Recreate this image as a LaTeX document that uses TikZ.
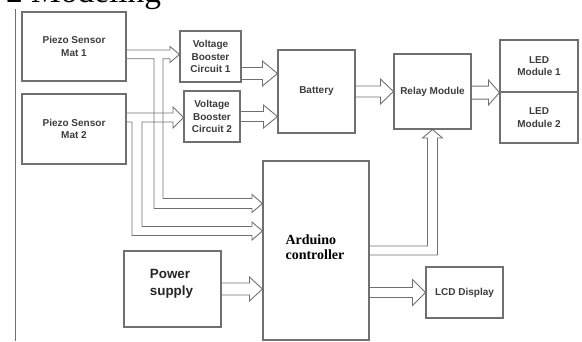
\documentclass[tikz,border=0pt]{standalone}
\usepackage{fontspec}
\setmainfont{Liberation Serif}
\setsansfont{Liberation Sans}
\usetikzlibrary{calc}
\definecolor{boxgray}{HTML}{707070}
\definecolor{txtgray}{HTML}{3C3C3C}
\newcommand\harrow[5]{%
  \draw[arr] ($(#1|-#2)+(0,-#3)$) -- ($(#2)+(-#5,-#3)$) -- ($(#2)+(-#5,-#4)$) -- (#2)
    -- ($(#2)+(-#5,#4)$) -- ($(#2)+(-#5,#3)$) -- ($(#1|-#2)+(0,#3)$);}
\begin{document}
\begin{tikzpicture}[x=1pt,y=-1pt,
  blk/.style={draw=boxgray,line width=1.1pt,inner sep=0pt,align=center,
    font=\sffamily\bfseries\fontsize{10}{12.3}\selectfont,text=txtgray},
  arr/.style={draw=boxgray,line width=0.9pt,line join=miter}]
\useasboundingbox (0,0) rectangle (582,341);
\begin{scope}
\clip (0,0) rectangle (582,341);
\node[anchor=base west,inner sep=0pt,font=\fontsize{33.4}{36}\selectfont] (title) at (6,2.5) {2 Modeling};
\end{scope}
\draw[boxgray,line width=0.9pt] (15.7,9) -- (15.7,341);

% blocks
\node[blk,minimum width=104,minimum height=69] (p1) at (74,46.5) {Piezo Sensor\\Mat 1};
\node[blk,minimum width=104,minimum height=70] (p2) at (74,129) {Piezo Sensor\\Mat 2};
\node[blk,minimum width=61,minimum height=51] (vb1) at (210.5,56.5) {Voltage\\Booster\\Circuit 1};
\node[blk,minimum width=56,minimum height=51] (vb2) at (212,116.5) {Voltage\\Booster\\Circuit 2};
\node[blk,minimum width=77,minimum height=83] (bat) at (316.5,91.5) {Battery};
\node[blk,minimum width=77,minimum height=75] (relay) at (432.5,91.5) {Relay Module};
\node[blk,minimum width=78,minimum height=52] (led1) at (539,66) {LED\\Module 1};
\node[blk,minimum width=78,minimum height=51] (led2) at (539,117.5) {LED\\Module 2};
\node[blk,minimum width=106,minimum height=179] (ard) at (316,250.5) {};
\node[inner sep=0pt,align=left,font=\bfseries\fontsize{14}{15}\selectfont] (ardtxt) at (315,247) {Arduino\\controller};
\node[blk,minimum width=77,minimum height=51] (lcd) at (464.5,292.5) {LCD Display};
\node[blk,minimum width=97,minimum height=76] (ps) at (172.5,289) {};
\node[inner sep=0pt,align=left,text=black!85,font=\sffamily\bfseries\fontsize{13.4}{17}\selectfont] (pstxt) at (171.5,283.5) {Power\\supply};

% tips
\coordinate (tvb1bat) at ($(bat.west)+(0,-18)$);
\coordinate (tvb2bat) at ($(bat.west)+(0,25)$);
\coordinate (tbatrel) at (relay.west);
\coordinate (trelled) at (led1.south west);
\coordinate (tardlcd) at (lcd.west);
\coordinate (tpsard) at (ard.west |- ps.east);

\harrow{vb1.east}{tvb1bat}{6}{12.5}{15}
\harrow{vb2.east}{tvb2bat}{5}{11.5}{14}
\harrow{bat.east}{tbatrel}{5.5}{12.5}{13}
\harrow{relay.east}{trelled}{6.5}{12.5}{11}
\harrow{ard.east}{tardlcd}{5}{13}{13}
\harrow{ps.east}{tpsard}{6}{12}{13}

% piezo 1 -> booster 1 and arduino
\draw[arr] ($(p1.east)+(0,3.5)$) -- (170,50) -- (170,46.5) -- ($(vb1.west)+(0,-2)$)
  -- (170,62.5) -- (170,58.7) -- (163,58.7) -- (163,198.5) -- (252,198.5) -- (252,194.5)
  -- ($(ard.west)+(0,-47)$) -- (252,212.5) -- (252,208.5) -- (154,208.5) -- (154,58.7)
  -- ($(p1.east)+(0,12.2)$);
% piezo 2 -> booster 2 and arduino
\draw[arr] ($(p2.east)+(0,-16)$) -- (173,113) -- (173,107) -- ($(vb2.west)+(0,1)$)
  -- (173,128) -- (173,122) -- (142,122) -- (142,226.5) -- (252,226.5) -- (252,222)
  -- ($(ard.west)+(0,-19.5)$) -- (252,240) -- (252,235.5) -- (132,235.5) -- (132,122)
  -- ($(p2.east)+(0,-7)$);
% arduino -> relay
\draw[arr] ($(ard.east)+(0,-4.5)$) -- (427.5,246) -- (427.5,138) -- (422.5,138) -- (relay.south)
  -- (442.5,138) -- (437.5,138) -- (437.5,255) -- ($(ard.east)+(0,4.5)$);
\end{tikzpicture}
\end{document}
